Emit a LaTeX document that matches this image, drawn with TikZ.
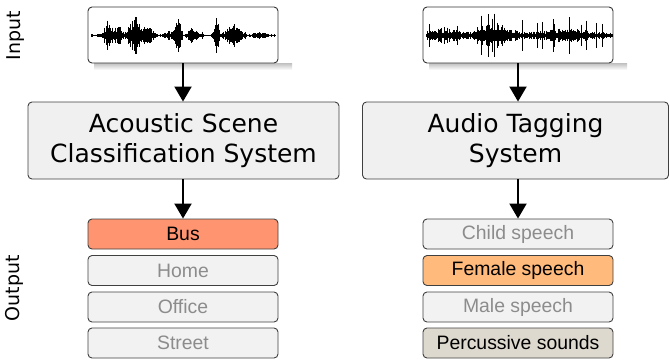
\documentclass[tikz,border=0pt]{standalone}
\usepackage{fontspec}
\setmainfont{DejaVu Sans}
\newfontfamily\arialf{Liberation Sans}
\usetikzlibrary{arrows.meta}
\definecolor{busc}{HTML}{FF9470}
\definecolor{femc}{HTML}{FFBA7C}
\definecolor{perc}{HTML}{DDD9CE}
\definecolor{offc}{HTML}{F2F2F2}
\definecolor{offt}{HTML}{8C8C8C}
\definecolor{sysc}{HTML}{F0F0F0}
\tikzset{
  wavebox/.style={draw=black!80, line width=0.9pt, rounded corners=4pt, fill=white, minimum width=190pt, minimum height=56pt, inner sep=0pt},
  sysbox/.style={draw=black!75, line width=0.9pt, rounded corners=4pt, fill=sysc, minimum height=77pt, inner sep=0pt, align=center, font=\fontsize{25}{29.5}\selectfont},
  outbox/.style={draw=black!75, line width=0.9pt, rounded corners=4pt, minimum width=190pt, minimum height=30pt, inner sep=0pt, font=\arialf\fontsize{19.4}{21}\selectfont},
  offbox/.style={outbox, fill=offc, text=offt},
  onbox/.style={outbox, text=black},
  sidelabel/.style={rotate=90, font=\fontsize{19}{21}\selectfont},
  flow/.style={line width=2pt, -{Triangle[width=17pt,length=15pt]}},
  wline/.style={line width=0.6pt, black}
}
\begin{document}
\begin{tikzpicture}[x=1pt,y=-1pt]
\useasboundingbox (0,0) rectangle (669,360);
% shadows
\shade[top color=black!25, bottom color=white] (94,63) rectangle (292,70);
\shade[top color=black!25, bottom color=white] (429,63) rectangle (627,70);
% waveform boxes
\node[wavebox] (w1) at (183,35) {};
\node[wavebox] (w2) at (518,35) {};
% waveforms
\pgfmathsetseed{11}
\foreach \x in {91,91.5,...,275} {
  \pgfmathsetmacro{\env}{1.3 + 18*max(0,1-abs(\x-108)/6) + 10*max(0,1-abs(\x-118)/9) + 20*max(0,1-abs(\x-135)/10) + 9*max(0,1-abs(\x-148)/8) + 4*max(0,1-abs(\x-170)/8) + 18*max(0,1-abs(\x-178)/5) + 6*max(0,1-abs(\x-192)/8) + 3*max(0,1-abs(\x-202)/1.5) + 21*max(0,1-abs(\x-216)/4) + 10*max(0,1-abs(\x-234)/14) + 2.5*max(0,1-abs(\x-259)/10) - 1*max(0,1-abs(\x-208)/4)}
  \pgfmathsetmacro{\amp}{max(0.4,\env*(0.3+0.8*rnd^1.3))}
  \draw[wline] (\x,35.5-\amp) -- (\x,35.5+\amp);
}
\foreach \x in {426,426.5,...,612} {
  \pgfmathsetmacro{\env}{2.2 + 6*max(0,1-abs(\x-445)/25) + 12*max(0,1-abs(\x-493)/30) + 5*max(0,1-abs(\x-565)/50)}
  \pgfmathsetmacro{\r}{rnd}
  \pgfmathsetmacro{\amp}{\env*(0.35+0.7*rnd^2) + (\r>0.95 ? 5+9*rnd : 0)}
  \draw[wline] (\x,35.5-\amp) -- (\x,35.5+\amp);
}
\draw[black, line width=0.5pt] (91,35.5) -- (275,35.5);
\draw[black, line width=0.5pt] (426,35.5) -- (612,35.5);
% systems
\node[sysbox, minimum width=311pt] (s1) at (183.5,140.5) {Acoustic Scene\\Classification System};
\node[sysbox, minimum width=306pt] (s2) at (515.5,140.5) {Audio Tagging\\System};
% outputs left
\node[onbox, fill=busc] (a1) at (183,234) {Bus};
\node[offbox] (a2) at (183,270.5) {Home};
\node[offbox] (a3) at (183,307) {Office};
\node[offbox] (a4) at (183,343) {Street};
% outputs right
\node[offbox] (b1) at (518,234) {Child speech};
\node[onbox, fill=femc] (b2) at (518,270.5) {Female speech};
\node[offbox] (b3) at (518,307) {Male speech};
\node[onbox, fill=perc] (b4) at (518,343) {Percussive sounds};
% arrows
\draw[flow] (w1.south) -- (w1.south |- s1.north);
\draw[flow] (w2.south) -- (w2.south |- s2.north);
\draw[flow] (w1.south |- s1.south) -- (a1.north);
\draw[flow] (w2.south |- s2.south) -- (b1.north);
% side labels
\node[sidelabel] (inl) at (16,36) {Input};
\node[sidelabel] (outl) at (14,288) {Output};
\end{tikzpicture}
\end{document}
